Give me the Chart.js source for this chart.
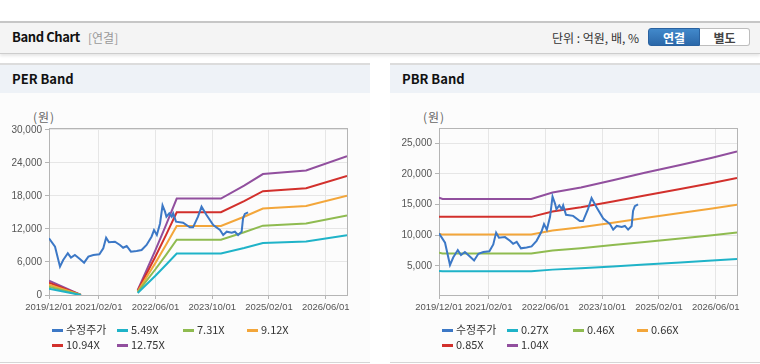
<!DOCTYPE html>
<html><head><meta charset="utf-8">
<script src="https://cdn.jsdelivr.net/npm/chart.js@4.4.0/dist/chart.umd.min.js"></script>
<style>
html,body{margin:0;padding:0;background:#fff;}
body{width:760px;height:364px;position:relative;overflow:hidden;font-family:"Noto Sans CJK KR","Noto Sans",sans-serif;}
.hdr{position:absolute;left:0;top:21px;width:760px;height:30px;background:#f4f4f4;border-top:2px solid #c6c6c6;border-bottom:1px solid #cdcdcd;box-shadow:0 2px 3px rgba(0,0,0,0.10);}
.hdr .t{position:absolute;left:12px;top:5px;font-size:13px;font-weight:bold;color:#111;line-height:18px;letter-spacing:-0.4px;}
.hdr .s{position:absolute;left:88px;top:6px;font-size:12px;color:#999;line-height:17px;}
.hdr .u{position:absolute;left:552px;top:6px;font-size:12px;color:#333;line-height:17px;}
.btn{position:absolute;top:5px;height:18px;line-height:18px;font-size:12px;font-weight:bold;text-align:center;box-sizing:border-box;}
.b1{left:648px;width:52px;background:linear-gradient(#4289cb,#2b68a9);color:#fff;border:1px solid #2a62a0;border-radius:3px 0 0 3px;}
.b2{left:700px;width:50px;background:#fff;color:#444;border:1px solid #bdbdbd;border-left:none;border-radius:0 3px 3px 0;}
.panel{position:absolute;top:63px;width:370px;height:297px;background:#fcfcfc;border-top:2px solid #dcdcdc;border-bottom:1px solid #d6d6d6;}
.panel .pt{height:28px;background:#eef2f7;font-weight:bold;font-size:13px;line-height:28px;padding-left:12px;color:#111;}
.panel canvas{position:absolute;left:0;top:28px;}
.unit{position:absolute;left:33px;top:44px;font-size:12px;color:#666;line-height:16px;letter-spacing:1px;}
.lg{position:absolute;left:52px;top:257px;width:300px;}
.li{position:absolute;font-size:11px;color:#333;line-height:14px;white-space:nowrap;}
.li i{display:inline-block;width:11px;height:3px;vertical-align:middle;margin-right:3px;position:relative;top:-1px;}
</style></head>
<body>
<div class="hdr">
  <span class="t">Band Chart</span><span class="s">[연결]</span>
  <span class="u">단위 : 억원, 배, %</span>
  <span class="btn b1">연결</span><span class="btn b2">별도</span>
</div>
<div class="panel" style="left:0">
  <div class="pt">PER Band</div>
  <div class="unit">(원)</div>
  <canvas id="per" width="370" height="230"></canvas>
  <div class="lg" id="perLg"></div>
</div>
<div class="panel" style="left:390px">
  <div class="pt">PBR Band</div>
  <div class="unit">(원)</div>
  <canvas id="pbr" width="370" height="230"></canvas>
  <div class="lg" id="pbrLg"></div>
</div>
<script>
// ---------- data ----------
const xTickLabels = ['2019/12/01','2021/02/01','2022/06/01','2023/10/01','2025/02/01','2026/06/01'];
const xStart = '2019-12-01';
const xEnd = '2026-12-01';

const priceLabel = '수정주가';
const priceDates = ['2019-12-01','2020-01-22','2020-03-04','2020-04-01','2020-05-10','2020-06-07','2020-07-10','2020-08-22','2020-09-28','2020-11-04','2020-12-16','2021-02-07','2021-03-10','2021-04-04','2021-04-28','2021-06-19','2021-08-01','2021-08-28','2021-09-28','2021-11-04','2021-12-22','2022-02-04','2022-03-16','2022-04-28','2022-05-19','2022-06-13','2022-07-10','2022-08-01','2022-08-22','2022-09-04','2022-09-28','2022-10-19','2022-11-01','2022-11-25','2023-01-25','2023-03-22','2023-04-19','2023-06-01','2023-07-01','2023-08-13','2023-10-10','2023-12-07','2024-01-04','2024-02-04','2024-03-16','2024-04-13','2024-05-10','2024-06-10','2024-06-22','2024-07-07','2024-08-04'];
const priceValues = [10300,8780,5150,6360,7580,6790,7270,6550,5880,6970,7270,7390,8490,10420,9580,9690,9090,8600,8910,7870,8000,8180,9090,10600,11800,10900,13000,16300,15150,14240,14850,14240,14850,13330,13150,12300,12300,14240,16060,14540,12720,11820,10910,11510,11330,11510,10910,11510,13940,14730,15030];

// PER band
const perLabels = ['5.49X','7.31X','9.12X','10.94X','12.75X'];
const perDates = ['2019-12-01','2020-09-01','2020-10-01','2022-01-01','2022-06-01','2022-09-01','2022-12-01','2023-12-15','2024-07-01','2024-12-10','2025-12-15','2026-12-01'];
const per549  = [1120,0,null,380,3510,5490,7550,7550,8560,9470,9740,10870];
const per731  = [1490,0,null,510,4680,7310,10050,10050,11400,12610,12980,14470];
const per912  = [1860,0,null,640,5840,9120,12540,12540,14230,15730,16190,18060];
const per1094 = [2230,0,null,770,7000,10940,15040,15040,17070,18870,19420,21660];
const per1275 = [2600,0,null,890,8160,12750,17530,17530,19890,21990,22630,25250];
const perYTicks = [0,6000,12000,18000,24000,30000];

// PBR band
const pbrLabels = ['0.27X','0.46X','0.66X','0.85X','1.04X'];
const pbrDates = ['2019-12-01','2020-01-01','2022-02-01','2022-08-01','2023-04-01','2024-01-01','2024-10-01','2025-08-01','2026-05-01','2026-12-01'];
const pbr027 = [4190,4130,4130,4400,4620,4920,5230,5560,5870,6130];
const pbr046 = [7130,7040,7040,7500,7870,8390,8910,9480,10010,10440];
const pbr066 = [10230,10100,10100,10760,11290,12030,12790,13600,14360,14980];
const pbr085 = [13000,12990,12990,13860,14540,15500,16470,17510,18490,19300];
const pbr104 = [16120,15910,15910,16950,17780,18960,20160,21420,22620,23610];
const pbrYTicks = [5000,10000,15000,20000,25000];

// ---------- styling ----------
const priceColor = '#3c78c6';
const bandColors = ['#1fb3c8','#8fbb50','#f3a63a','#d2302c','#914f9e'];

function toMonth(s){
  const p = s.split(/[-\/]/).map(Number);
  return (p[0]-2019)*12 + (p[1]-12) + (p[2]-1)/30;
}
function pts(dates, vals){ return dates.map((d,i)=>({x:toMonth(d), y:vals[i]})); }

const framePlugin = {
  id:'frame',
  beforeDatasetsDraw(c){
    const a=c.chartArea, ctx=c.ctx;
    ctx.save(); ctx.strokeStyle='#b5b5b5'; ctx.lineWidth=1;
    ctx.strokeRect(Math.round(a.left)+0.5, Math.round(a.top)+0.5, Math.round(a.right-a.left), Math.round(a.bottom-a.top));
    ctx.restore();
  }
};

function makeChart(id, lgId, bandDates, bandSeries, bandLabels, yMin, yMax, yTicks){
  const tickMonths = xTickLabels.map(toMonth);
  const datasets = [{
    label: priceLabel, data: pts(priceDates, priceValues), borderColor: priceColor,
    backgroundColor: priceColor, borderWidth: 2, pointRadius: 0, tension: 0, order: 0
  }];
  bandSeries.forEach((v,i)=>datasets.push({
    label: bandLabels[i], data: pts(bandDates, v), borderColor: bandColors[i],
    backgroundColor: bandColors[i], borderWidth: 2, pointRadius: 0, tension: 0, spanGaps:false, order: 1
  }));
  const ch = new Chart(document.getElementById(id), {
    type:'line',
    data:{datasets},
    plugins:[framePlugin],
    options:{
      responsive:false, animation:false, devicePixelRatio:1,
      layout:{padding:{top:35,right:23,left:0,bottom:0}},
      plugins:{legend:{display:false}, tooltip:{enabled:false}},
      scales:{
        x:{type:'linear', min:toMonth(xStart), max:toMonth(xEnd),
          afterBuildTicks:s=>{s.ticks = tickMonths.map(v=>({value:v}));},
          afterFit:s=>{s.height=28;},
          grid:{color:'#e6e6e6', tickLength:4, tickColor:'#b5b5b5'},
          border:{color:'#b5b5b5'},
          ticks:{autoSkip:false, maxRotation:0, padding:3, color:'#555',
            font:{family:'"Liberation Sans", Arial, sans-serif', size:9.5},
            callback:(v)=>{const i=tickMonths.findIndex(t=>Math.abs(t-v)<1e-6); return i>=0?xTickLabels[i]:'';}}
        },
        y:{min:yMin, max:yMax,
          afterBuildTicks:s=>{s.ticks = yTicks.map(v=>({value:v}));},
          afterFit:s=>{s.width=49;},
          grid:{color:'#e6e6e6', tickLength:4, tickColor:'#b5b5b5'},
          border:{color:'#b5b5b5'},
          ticks:{padding:3, color:'#555',
            font:{family:'"Liberation Sans", Arial, sans-serif', size:10},
            callback:v=>Number(v).toLocaleString('en-US')}
        }
      }
    }
  });
  // html legend from datasets
  const lg = document.getElementById(lgId);
  const cols = [0,65,131,195];
  ch.data.datasets.forEach((d,i)=>{
    const row = Math.floor(i/4), col = i%4;
    const el = document.createElement('span');
    el.className='li';
    el.style.left = cols[col]+'px';
    el.style.top = (row*15)+'px';
    const m = document.createElement('i'); m.style.background = d.borderColor;
    el.appendChild(m); el.appendChild(document.createTextNode(d.label));
    lg.appendChild(el);
  });
  return ch;
}

makeChart('per','perLg', perDates, [per549,per731,per912,per1094,per1275], perLabels, 0, 30360, perYTicks);
makeChart('pbr','pbrLg', pbrDates, [pbr027,pbr046,pbr066,pbr085,pbr104], pbrLabels, 270, 27450, pbrYTicks);
</script>
</body></html>
